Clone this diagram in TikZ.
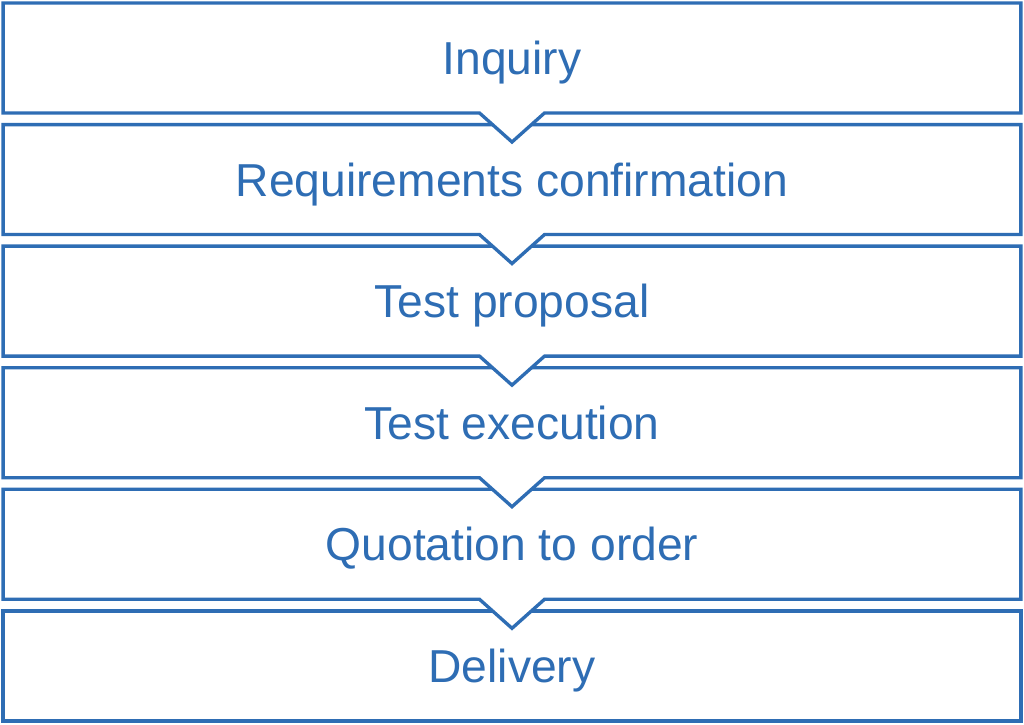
\documentclass[tikz,border=0pt]{standalone}
\usepackage{fontspec}
\setmainfont{Liberation Sans}
\usetikzlibrary{positioning, calc, backgrounds}
\definecolor{stepblue}{RGB}{46,109,180}

\begin{document}
\begin{tikzpicture}[
    x=0.02cm, y=-0.02cm,
    stepbox/.style={minimum width=20.36cm, minimum height=2.2cm, inner sep=0pt, outer sep=0pt,
        text=stepblue, font=\fontsize{26.3}{31}\selectfont, text height=18.8pt, text depth=0pt},
    outline/.style={draw=stepblue, line width=1.9pt, fill=white, line join=miter},
    node distance=0.232cm
]
    \useasboundingbox (0, 0) rectangle (1024, 724);

    % Steps
    \node[stepbox] (inquiry) at (512, 58) {Inquiry};
    \node[stepbox, below=of inquiry] (confirm) {Requirements confirmation};
    \node[stepbox, below=of confirm] (proposal) {Test proposal};
    \node[stepbox, below=of proposal] (execution) {Test execution};
    \node[stepbox, below=of execution] (quotation) {Quotation to order};
    \node[stepbox, below=of quotation] (delivery) {Delivery};

    % Outlines, bottom first so each notch lies over the next box
    \begin{scope}[on background layer]
        \draw[outline] (delivery.north west) rectangle (delivery.south east);
        \draw[outline] (quotation.north west) -- (quotation.north east) -- (quotation.south east)
            -- ($(quotation.south)+(32.5,0)$) -- ($(quotation.south)+(0,29)$) -- ($(quotation.south)+(-32.5,0)$)
            -- (quotation.south west) -- cycle;
        \draw[outline] (execution.north west) -- (execution.north east) -- (execution.south east)
            -- ($(execution.south)+(32.5,0)$) -- ($(execution.south)+(0,29)$) -- ($(execution.south)+(-32.5,0)$)
            -- (execution.south west) -- cycle;
        \draw[outline] (proposal.north west) -- (proposal.north east) -- (proposal.south east)
            -- ($(proposal.south)+(32.5,0)$) -- ($(proposal.south)+(0,29)$) -- ($(proposal.south)+(-32.5,0)$)
            -- (proposal.south west) -- cycle;
        \draw[outline] (confirm.north west) -- (confirm.north east) -- (confirm.south east)
            -- ($(confirm.south)+(32.5,0)$) -- ($(confirm.south)+(0,29)$) -- ($(confirm.south)+(-32.5,0)$)
            -- (confirm.south west) -- cycle;
        \draw[outline] (inquiry.north west) -- (inquiry.north east) -- (inquiry.south east)
            -- ($(inquiry.south)+(32.5,0)$) -- ($(inquiry.south)+(0,29)$) -- ($(inquiry.south)+(-32.5,0)$)
            -- (inquiry.south west) -- cycle;
    \end{scope}

\end{tikzpicture}
\end{document}
